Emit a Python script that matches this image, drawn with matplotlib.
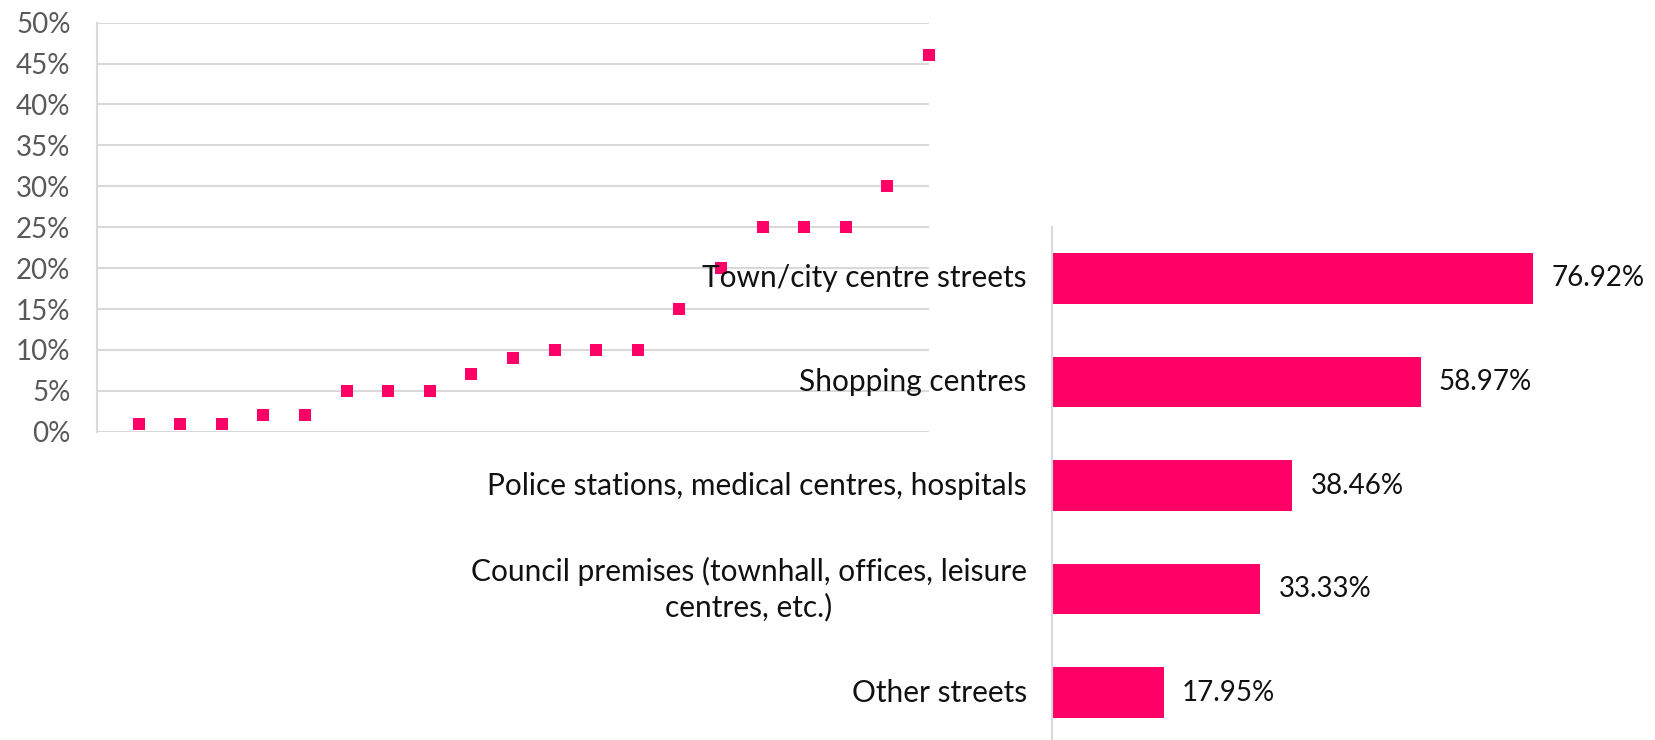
import matplotlib
matplotlib.use("Agg")
import matplotlib.pyplot as plt
from matplotlib.ticker import FuncFormatter, MultipleLocator

plt.rcParams['font.family'] = ['Lato', 'DejaVu Sans']

# Left chart (scatter of square markers)
scatter_x = list(range(1, 21))
scatter_values = [1, 1, 1, 2, 2, 5, 5, 5, 7, 9, 10, 10, 10, 15, 20, 25, 25, 25, 30, 46]

# Right chart (horizontal bars)
bar_categories = [
    "Town/city centre streets",
    "Shopping centres",
    "Police stations, medical centres, hospitals",
    "Council premises (townhall, offices, leisure\ncentres, etc.)",
    "Other streets",
]
bar_values = [76.92, 58.97, 38.46, 33.33, 17.95]

PINK = "#FF0066"
GRID = "#D9D9D9"
TICK_GRAY = "#595959"

fig = plt.figure(figsize=(16.56, 7.40), dpi=100)

# ---------- left scatter ----------
ax1 = fig.add_axes([97/1656, 1 - 431.7/740, (929 - 97)/1656, (431.7 - 22.7)/740])
ax1.plot(scatter_x, scatter_values, linestyle="none", marker="s", markersize=8.3,
         color=PINK, markeredgewidth=0, clip_on=False, zorder=3)
ax1.set_xlim(0, 20)
ax1.set_ylim(0, 50)
ax1.yaxis.set_major_locator(MultipleLocator(5))
ax1.yaxis.set_major_formatter(FuncFormatter(lambda v, p: f"{int(round(v))}%"))
ax1.grid(axis="y", color=GRID, linewidth=1.5, zorder=0)
ax1.set_axisbelow(True)
ax1.set_xticks([])
for s in ["top", "right", "bottom"]:
    ax1.spines[s].set_visible(False)
ax1.spines["left"].set_color(GRID)
ax1.spines["left"].set_linewidth(1.5)
ax1.tick_params(axis="y", length=0, pad=19, labelsize=20, labelcolor=TICK_GRAY)

# ---------- right bars ----------
ax2 = fig.add_axes([1051.7/1656, 0, 95*6.26/1656, 1 - 226.7/740])
ax2.patch.set_alpha(0)
ypos = list(range(len(bar_categories)))
bars = ax2.barh(ypos, bar_values, height=0.49, color=PINK)
ax2.set_xlim(0, 95)
ax2.set_ylim(4.457, -0.5)
ax2.set_yticks(ypos)
ax2.set_yticklabels([])
ax2.set_xticks([])
for s in ["top", "right", "bottom"]:
    ax2.spines[s].set_visible(False)
ax2.spines["left"].set_color(GRID)
ax2.spines["left"].set_linewidth(1.5)
ax2.tick_params(axis="y", length=0)
for y, cat in zip(ypos, bar_categories):
    ax2.annotate(cat, xy=(0, y), xycoords=("axes fraction", "data"),
                 xytext=(-18, 0), textcoords="offset points",
                 ha="right", va="center", multialignment="center",
                 linespacing=1.25, fontsize=21.5, color="#111111",
                 annotation_clip=False)
for b, v in zip(bars, bar_values):
    ax2.annotate(f"{v:.2f}%", xy=(b.get_width(), b.get_y() + b.get_height()/2),
                 xytext=(13, 0), textcoords="offset points", va="center", ha="left",
                 fontsize=20, color="#111111")

fig.savefig("out.png", dpi=100)
